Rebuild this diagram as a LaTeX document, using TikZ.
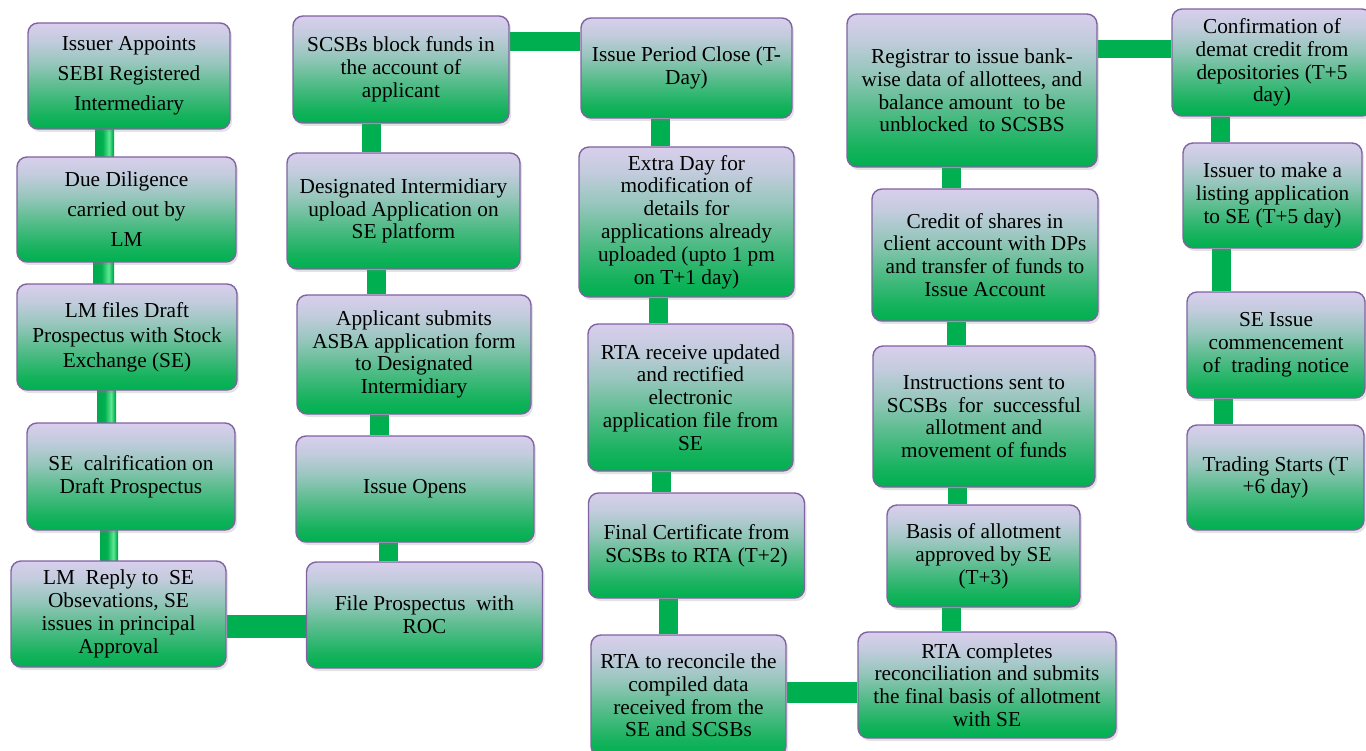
\documentclass[tikz,border=0pt]{standalone}
\usepackage{fontspec}
\setmainfont{Liberation Serif}
\usetikzlibrary{shadows}
\definecolor{bordc}{RGB}{128,100,162}
\definecolor{gr}{RGB}{0,176,80}
\definecolor{grlight}{RGB}{95,232,145}
\definecolor{grdark}{RGB}{0,170,76}
\definecolor{sa}{RGB}{20,178,92}
\definecolor{sb}{RGB}{85,188,138}
\definecolor{sc}{RGB}{150,198,188}
\definecolor{sd}{RGB}{196,204,222}
\definecolor{lav}{RGB}{216,206,236}
\pgfdeclareverticalshading{boxshade}{100bp}{color(0bp)=(gr); color(25bp)=(gr); color(31bp)=(sa); color(44bp)=(sb); color(56bp)=(sc); color(67bp)=(sd); color(75bp)=(lav); color(100bp)=(lav)}
\pgfdeclarehorizontalshading{cylshade}{100bp}{color(0bp)=(grdark); color(25bp)=(grdark); color(45bp)=(gr); color(62bp)=(grlight); color(72bp)=(gr); color(75bp)=(grdark); color(100bp)=(grdark)}
\pgfdeclarelayer{bg}
\pgfsetlayers{bg,main}
\tikzset{
  box/.style={draw=bordc, line width=1.4pt, rounded corners=10pt, shade, shading=boxshade,
    align=center, inner sep=2pt, font=\fontsize{21.3}{22.8}\selectfont,
    drop shadow={opacity=0.22, shadow xshift=2pt, shadow yshift=-3pt}},
  wide/.style={font=\fontsize{21.3}{30}\selectfont},
  conn/.style={draw=gr, line width=19pt},
  cyl/.style={shade, shading=cylshade}
}
\begin{document}
\begin{tikzpicture}[x=1pt,y=-1pt]
\useasboundingbox (0,0) rectangle (1366,751);
% column 1
\node[box, wide, minimum width=202pt, minimum height=106pt] (B1) at (129,76) {Issuer Appoints\\SEBI Registered\\Intermediary};
\node[box, wide, minimum width=219pt, minimum height=105pt] (B2) at (126.5,209.5) {Due Diligence\\carried out by\\LM};
\node[box, font=\fontsize{21.3}{25}\selectfont, minimum width=220pt, minimum height=106pt] (B3) at (127,337) {LM files Draft\\Prospectus with Stock\\Exchange (SE)};
\node[box, minimum width=208pt, minimum height=107pt] (B4) at (131,476.5) {SE\ \ calrification on\\Draft Prospectus};
\node[box, minimum width=215pt, minimum height=106pt] (B5) at (118.5,614) {LM\ \ Reply to\ \ SE\\Obsevations, SE\\issues in principal\\Approval};
% column 2
\node[box, minimum width=216pt, minimum height=107pt] (C1) at (401,69.5) {SCSBs block funds in\\the account of\\applicant};
\node[box, minimum width=233pt, minimum height=116pt] (C2) at (403.5,211) {Designated Intermidiary\\upload Application on\\SE platform};
\node[box, minimum width=234pt, minimum height=119pt] (C3) at (414,354.5) {Applicant submits\\ASBA application form\\to Designated\\Intermidiary};
\node[box, minimum width=238pt, minimum height=106pt] (C4) at (415,489) {Issue Opens};
\node[box, minimum width=236pt, minimum height=106pt] (C5) at (424.5,615) {File Prospectus\ \ with\\ROC};
% column 3
\node[box, minimum width=211pt, minimum height=100pt] (D1) at (686.5,68) {Issue Period Close (T-\\Day)};
\node[box, minimum width=215pt, minimum height=150pt] (D2) at (686.5,222) {Extra Day for\\modification of\\details for\\applications already\\uploaded (upto 1 pm\\on T+1 day)};
\node[box, minimum width=205pt, minimum height=147pt] (D3) at (690.5,397.5) {RTA receive updated\\and rectified\\electronic\\application file from\\SE};
\node[box, minimum width=216pt, minimum height=105pt] (D4) at (696.5,545.5) {Final Certificate from\\SCSBs to RTA (T+2)};
\node[box, minimum width=195pt, minimum height=121pt] (D5) at (688.5,695.5) {RTA to reconcile the\\compiled data\\received from the\\SE and SCSBs};
% column 4
\node[box, minimum width=250pt, minimum height=153pt] (E1) at (972,90.5) {Registrar to issue bank-\\wise data of allottees, and\\balance amount\ \ to be\\unblocked\ \ to SCSBS};
\node[box, minimum width=226pt, minimum height=132pt] (E2) at (985,255) {Credit of shares in\\client account with DPs\\and transfer of funds to\\Issue Account};
\node[box, minimum width=222pt, minimum height=141pt] (E3) at (984,416.5) {Instructions sent to\\SCSBs\ \ for\ \ successful\\allotment and\\movement of funds};
\node[box, minimum width=193pt, minimum height=102pt] (E4) at (983.5,556) {Basis of allotment\\approved by SE\\(T+3)};
\node[box, minimum width=258pt, minimum height=106pt] (E5) at (987,685) {RTA completes\\reconciliation and submits\\the final basis of allotment\\with SE};
% column 5
\node[box, minimum width=200pt, minimum height=107pt] (F1) at (1272,62.5) {Confirmation of\\demat credit from\\depositories (T+5\\day)};
\node[box, minimum width=179pt, minimum height=105pt] (F2) at (1272.5,195.5) {Issuer to make a\\listing application\\to SE (T+5 day)};
\node[box, minimum width=178pt, minimum height=106pt] (F3) at (1276,345) {SE Issue\\commencement\\of\ \ trading notice};
\node[box, minimum width=177pt, minimum height=105pt] (F4) at (1275.5,477.5) {Trading Starts (T\\+6 day)};
% helper coordinates for connector positions
\coordinate (a1l) at (95,0);   \coordinate (a1r) at (114,0);
\coordinate (a2l) at (93,0);   \coordinate (a2r) at (114,0);
\coordinate (a3l) at (97,0);   \coordinate (a3r) at (116,0);
\coordinate (a4l) at (100,0);  \coordinate (a4r) at (118,0);
\coordinate (c12) at (371,0);  \coordinate (c23) at (376.5,0);
\coordinate (c34) at (379.5,0);\coordinate (c45) at (388,0);
\coordinate (d12) at (660,0);  \coordinate (d23) at (658.5,0);
\coordinate (d34) at (661.5,0);\coordinate (d45) at (668,0);
\coordinate (e12) at (951.5,0);\coordinate (e23) at (956,0);
\coordinate (e34) at (957,0);  \coordinate (e45) at (951,0);
\coordinate (f12) at (1220,0); \coordinate (f23) at (1221.5,0);
\coordinate (f34) at (1223.5,0);
\coordinate (hbc) at (0,626.5);\coordinate (hcd) at (0,41.5);
\coordinate (hde) at (0,692.5);\coordinate (hef) at (0,49);
\begin{pgfonlayer}{bg}
\shade[cyl] (B1.south -| a1l) rectangle (B2.north -| a1r);
\shade[cyl] (B2.south -| a2l) rectangle (B3.north -| a2r);
\shade[cyl] (B3.south -| a3l) rectangle (B4.north -| a3r);
\shade[cyl] (B4.south -| a4l) rectangle (B5.north -| a4r);
\draw[conn, line width=23pt] (B5.east |- hbc) -- (C5.west |- hbc);
\draw[conn] (C5.north -| c45) -- (C4.south -| c45);
\draw[conn] (C4.north -| c34) -- (C3.south -| c34);
\draw[conn] (C3.north -| c23) -- (C2.south -| c23);
\draw[conn] (C2.north -| c12) -- (C1.south -| c12);
\draw[conn] (C1.east |- hcd) -- (D1.west |- hcd);
\draw[conn] (D1.south -| d12) -- (D2.north -| d12);
\draw[conn] (D2.south -| d23) -- (D3.north -| d23);
\draw[conn] (D3.south -| d34) -- (D4.north -| d34);
\draw[conn] (D4.south -| d45) -- (D5.north -| d45);
\draw[conn, line width=21pt] (D5.east |- hde) -- (E5.west |- hde);
\draw[conn] (E5.north -| e45) -- (E4.south -| e45);
\draw[conn] (E4.north -| e34) -- (E3.south -| e34);
\draw[conn] (E3.north -| e23) -- (E2.south -| e23);
\draw[conn] (E2.north -| e12) -- (E1.south -| e12);
\draw[conn, line width=18pt] (E1.east |- hef) -- (F1.west |- hef);
\draw[conn] (F1.south -| f12) -- (F2.north -| f12);
\draw[conn] (F2.south -| f23) -- (F3.north -| f23);
\draw[conn] (F3.south -| f34) -- (F4.north -| f34);
\end{pgfonlayer}
\end{tikzpicture}
\end{document}
